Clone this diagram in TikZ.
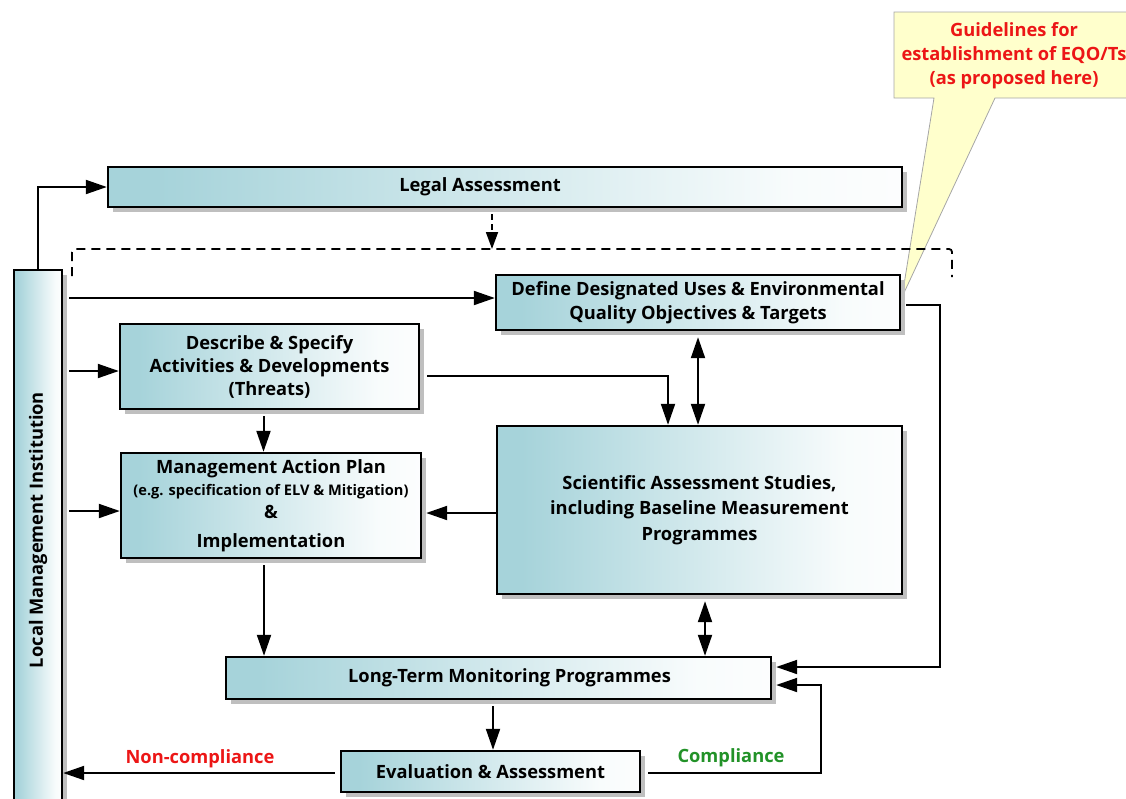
\documentclass[tikz,border=0pt]{standalone}
\usepackage{fontspec}
\setmainfont{Open Sans}
\usetikzlibrary{arrows.meta,shadows}

\definecolor{boxteal}{RGB}{166,211,218}
\definecolor{calloutfill}{RGB}{255,255,204}
\definecolor{warnred}{RGB}{236,22,22}
\definecolor{okgreen}{RGB}{34,146,40}

% teal on the left fading to white towards the right edge
\pgfdeclarehorizontalshading{boxfade}{100bp}{color(0bp)=(boxteal); color(28bp)=(boxteal); color(68bp)=(white!92!boxteal); color(80bp)=(white); color(100bp)=(white)}

\newcommand\boxfont{\fontsize{18.3}{24}\selectfont\bfseries}
\newcommand\smallboxfont{\fontsize{14.6}{16}\selectfont\bfseries}

\tikzset{
  box/.style={draw=black, line width=2.4pt, shading=boxfade,
    drop shadow={shadow xshift=5pt, shadow yshift=-5pt, fill=black!25, opacity=1},
    inner sep=0pt, align=center, font=\boxfont},
  conn/.style={line width=2pt, -{Triangle[length=21pt,width=14pt]}},
  dconn/.style={line width=2pt, {Triangle[length=21pt,width=14pt]}-{Triangle[length=21pt,width=14pt]}},
  dashline/.style={line width=1.8pt, dash pattern=on 9pt off 6pt, rounded corners=3pt},
  flowlabel/.style={font=\boxfont},
}

\begin{document}
\begin{tikzpicture}[x=1pt,y=-1pt]
\useasboundingbox (0,0) rectangle (1126,798);
\clip (0,0) rectangle (1126,798);

% callout with the guidelines note
\coordinate (calloutTip) at (902,297);
\fill[calloutfill, draw=black!35, line width=0.8pt]
  (894,12) -- (1140,12) -- (1140,98) -- (995,98) -- (calloutTip) -- (934,98) -- (894,98) -- cycle;
\node[font=\boxfont, text=warnred, align=center] (guide) at (1014,56)
  {Guidelines for\\establishment of EQO/Ts\\(as proposed here)};

% boxes
\node[box, minimum width=794pt, minimum height=40pt,
      label={[font=\boxfont, xshift=-25pt]center:Legal Assessment}] (legal) at (505,187) {};
\node[box, minimum width=48pt, minimum height=545pt] (local) at (38,542.5) {};
\node[font=\boxfont, rotate=90] (locallabel) at (38,530) {Local Management Institution};

\node[box, minimum width=404pt, minimum height=55pt] (define) at (698,302.5)
  {Define Designated Uses \& Environmental\\Quality Objectives \& Targets};
\node[box, minimum width=299pt, minimum height=85pt] (describe) at (269.5,366.5)
  {Describe \& Specify\\[-1pt]Activities \& Developments\\[-1pt](Threats)};
\node[box, minimum width=300pt, minimum height=105pt] (map) at (271,505.5)
  {Management Action Plan\\[-2pt]{\smallboxfont(e.g. specification of ELV \& Mitigation)}\\[-1pt]\&\\[5pt]Implementation};
\node[box, minimum width=405pt, minimum height=168pt] (sci) at (699.5,510)
  {Scientific Assessment Studies,\\[1.5pt]including Baseline Measurement\\[1.5pt]Programmes};
\node[box, minimum width=545pt, minimum height=42pt,
      label={[font=\boxfont, xshift=11pt]center:Long-Term Monitoring Programmes}] (ltm) at (498.5,678) {};
\node[box, minimum width=299pt, minimum height=41pt] (eval) at (490.5,771.5)
  {Evaluation \& Assessment};

% legal assessment feeding the dashed bracket
\coordinate (dashTop) at (492,249);
\coordinate (dashL) at (72,276);
\coordinate (dashR) at (952,277);
\draw[dashline] (dashL) |- (dashTop) -| (dashR);
\draw[line width=1.8pt, dash pattern=on 6pt off 4pt, -{Triangle[length=17pt,width=12pt]}]
  (legal.south -| dashTop) ++(0,6) -- (dashTop);

% institution to the boxes
\draw[conn] (local.north) |- (legal.west);
\draw[conn, shorten <=6pt] (local.east |- define.west) ++(0,-4.5) -- ([yshift=4.5pt]define.west);
\draw[conn, shorten <=6pt] (local.east |- describe.west) ++(0,4.5) -- ([yshift=-4.5pt]describe.west);
\draw[conn, shorten <=6pt] (local.east |- map.west) ++(0,5.5) -- ([yshift=-5.5pt]map.west);

% inner flow
\draw[conn, shorten <=6pt] ([xshift=-6pt]describe.south) -- ([xshift=-6pt]describe.south |- map.north);
\draw[conn, shorten <=7pt] ([yshift=-9.5pt]describe.east) -| ([xshift=-31.5pt]sci.north);
\draw[dconn, shorten <=6pt] (define.south) -- (define.south |- sci.north);
\draw[conn, shorten >=4pt] ([yshift=-3pt]sci.west) -- ([yshift=-3pt]sci.west -| map.east);
\draw[conn, shorten <=6pt] ([xshift=-7pt]map.south) -- ([xshift=-7pt]map.south |- ltm.north);
\draw[dconn, shorten <=6pt] ([xshift=5.5pt]sci.south) -- ([xshift=5.5pt]sci.south |- ltm.north);
\draw[conn, shorten <=5pt, shorten >=4pt] ([yshift=-2.5pt]define.east) -- ++(39,0) |- ([yshift=11pt]ltm.east);
\draw[conn, shorten <=6pt] ([xshift=-5.5pt]ltm.south) -- ([xshift=-5.5pt]ltm.south |- eval.north);

% evaluation outcomes
\draw[conn, shorten <=7pt, shorten >=4pt] ([yshift=-1.5pt]eval.east) -- ++(180,0) |- ([yshift=-7pt]ltm.east);
\draw[conn, shorten <=5pt] ([yshift=-1.5pt]eval.west) -- ([yshift=-1.5pt]eval.west -| local.east);
\node[flowlabel, text=okgreen] (complylabel) at (731,758) {Compliance};
\node[flowlabel, text=warnred] (noncomplylabel) at (200,759) {Non-compliance};
\end{tikzpicture}
\end{document}
